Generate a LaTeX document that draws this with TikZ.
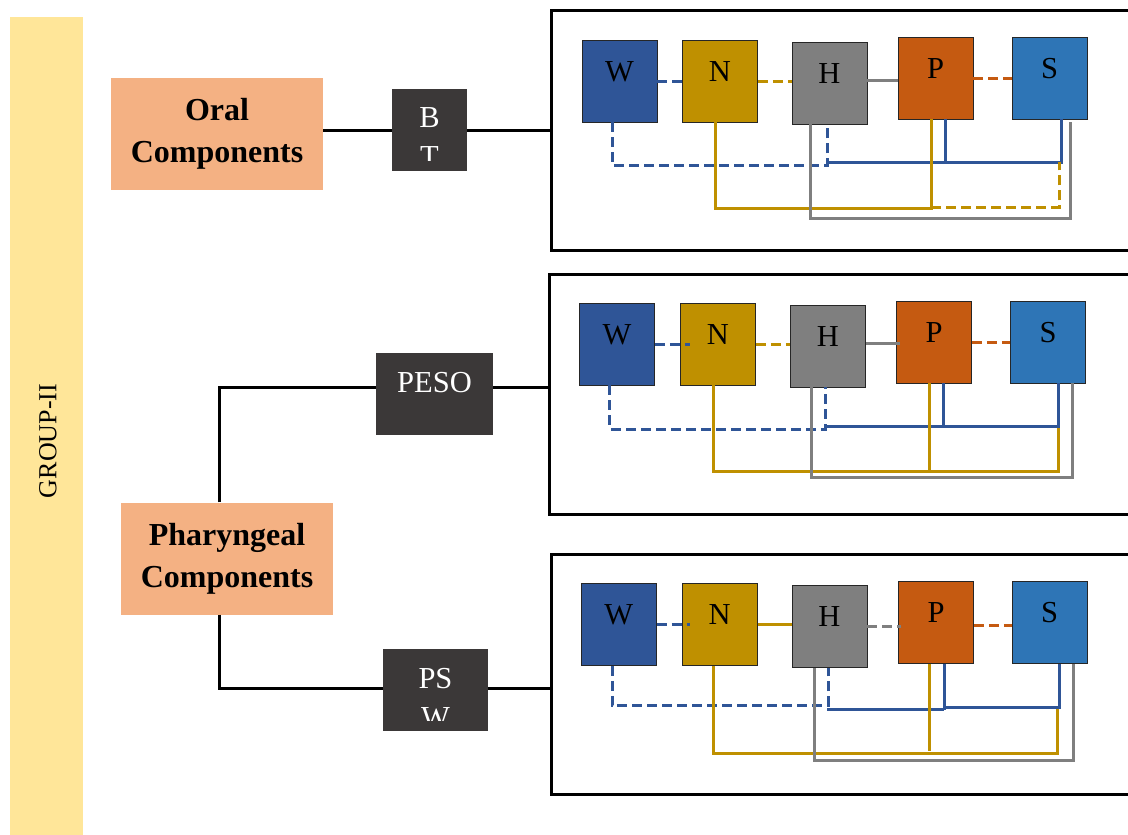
\documentclass[tikz,border=0pt]{standalone}
\usepackage{fontspec}
\setmainfont{Liberation Serif}
\definecolor{yel}{HTML}{FFE699}
\definecolor{salmon}{HTML}{F4B183}
\definecolor{dkbox}{HTML}{3B3838}
\definecolor{cW}{HTML}{2F5597}
\definecolor{cN}{HTML}{BF9000}
\definecolor{cH}{HTML}{7F7F7F}
\definecolor{cP}{HTML}{C55A11}
\definecolor{cS}{HTML}{2E75B6}
\begin{document}
\begin{tikzpicture}[x=1pt,y=-1pt,
 box/.style={draw=black!85,line width=0.8pt,minimum width=75pt,minimum height=82pt,inner sep=0pt,text height=0pt,text depth=0pt,font=\fontsize{30.5}{35}\selectfont},
 dk/.style={fill=dkbox,minimum height=82pt,inner sep=0pt},
 wt/.style={text=white,font=\fontsize{30.5}{35}\selectfont,anchor=base,inner sep=0pt},
 comp/.style={fill=salmon,minimum width=212pt,minimum height=112pt,align=center,font=\fontsize{32}{42}\selectfont\bfseries},
 panel/.style={draw=black,line width=3pt,minimum width=600pt,minimum height=240pt,inner sep=0pt},
 conn/.style={line width=3pt,draw=black},
 bl/.style={line width=3pt,draw=cW},
 gd/.style={line width=3pt,draw=cN},
 gy/.style={line width=3pt,draw=cH},
 og/.style={line width=3pt,draw=cP},
 dsh/.style={dash pattern=on 10pt off 5pt}
]
\useasboundingbox (0,0) rectangle (1128,835);
\clip (0,0) rectangle (1128,835);

% left strip
\node[fill=yel,minimum width=73pt,minimum height=820pt,inner sep=0pt] (strip) at (46.5,427) {};
\node[rotate=90,font=\fontsize{26}{30}\selectfont] (grp) at (48,441) {GROUP-II};

% component boxes
\node[comp] (oral) at (217,134) {Oral\\Components};
\node[comp] (phar) at (227,558.5) {Pharyngeal\\Components};

% dark boxes
\node[dk,minimum width=75pt] (BT) at (429.5,130) {};
\node[dk,minimum width=117pt] (PESO) at (434.5,394) {};
\node[dk,minimum width=105pt] (PSW) at (435.5,690) {};
\begin{scope}
\clip (BT.north west) rectangle ([yshift=11pt]BT.south east);
\node[wt] (BTa) at (429.5,127) {B};
\node[wt] (BTb) at (429.5,166) {T};
\end{scope}
\node[wt] (PESOt) at (434.5,392) {PESO};
\begin{scope}
\clip (PSW.north west) rectangle ([yshift=11pt]PSW.south east);
\node[wt] (PSWa) at (435.5,688) {PS};
\node[wt] (PSWb) at (435.5,727) {W};
\end{scope}

% panels
\node[panel] (pan1) at (851,130) {};
\node[panel] (pan2) at (849,394) {};
\node[panel] (pan3) at (851,674) {};

% left connectors
\draw[conn] (oral.east |- BT.west) -- (BT.west);
\draw[conn] (BT.east) -- (pan1.west);
\draw[conn] ([xshift=-8pt]phar.north) |- ([yshift=7pt]PESO.west);
\draw[conn] ([yshift=7pt]PESO.east) -- ([yshift=7pt]pan2.west);
\draw[conn] ([xshift=-8pt]phar.south) |- ([yshift=2pt]PSW.west);
\draw[conn] ([yshift=2pt]PSW.east) -- ([yshift=-14pt]pan3.west);

% ---------- panel 1 ----------
\node[box,fill=cW] (W1) at (619.5,81) {W};
\node[box,fill=cN] (N1) at (720,81) {N};
\node[box,fill=cH] (H1) at (829.5,83) {H};
\node[box,fill=cP] (P1) at (935.5,78) {P};
\node[box,fill=cS] (S1) at (1049.5,78) {S};
\draw[bl,dsh] (W1.east) -- (W1.east -| N1.west);
\draw[gd,dsh] (N1.east) -- (N1.east -| H1.west);
\draw[gy] ([yshift=3pt]H1.east) -- ([yshift=-2pt]P1.west);
\draw[og,dsh] (P1.east) -- (S1.west);
\draw[bl,dsh] ([xshift=-7.5pt]W1.south) -- ++(0,43) -| ([xshift=-2.5pt]H1.south);
\draw[bl] ([xshift=-2.5pt]H1.south) ++(0,38) -| ([xshift=11.5pt]S1.south);
\draw[bl] ([xshift=10pt]P1.south) -- ++(0,42);
\draw[gd] ([xshift=-5pt]N1.south) -- ++(0,86) -| ([xshift=-4.5pt]P1.south);
\draw[gd,dsh] ([xshift=-4.5pt]P1.south) ++(0,88) -- ++(128,0) -- ++(0,-45);
\draw[gy] ([xshift=-19.5pt]H1.south) -- ++(0,94) -| ([xshift=20.5pt,yshift=-3pt]S1.south);

% ---------- panel 2 ----------
\node[box,fill=cW] (W2) at (617,344) {W};
\node[box,fill=cN] (N2) at (718,344) {N};
\node[box,fill=cH] (H2) at (828,346) {H};
\node[box,fill=cP] (P2) at (934,342) {P};
\node[box,fill=cS] (S2) at (1048,342) {S};
\draw[bl,dsh] (W2.east) -- ([xshift=10pt]N2.west);
\draw[gd,dsh] (N2.east) -- (N2.east -| H2.west);
\draw[gy] ([yshift=2.3pt]H2.east) -- ([xshift=4pt,yshift=-1.7pt]P2.west);
\draw[og,dsh] (P2.east) -- (S2.west);
\draw[bl,dsh] ([xshift=-7.3pt]W2.south) -- ++(0,43.7) -| ([xshift=-2.3pt]H2.south);
\draw[bl] ([xshift=-2.3pt]H2.south) ++(0,39.3) -| ([xshift=10pt]S2.south);
\draw[bl] ([xshift=9.7pt]P2.south) -- ++(0,43.3);
\draw[gd] ([xshift=-5pt]N2.south) -- ++(0,85.7) -- ++(345,0) -- ++(0,-43);
\draw[gd] ([xshift=-5pt]P2.south) -- ++(0,87.7);
\draw[gy] ([xshift=-16.3pt]H2.south) -- ++(0,89.7) -| ([xshift=24pt]S2.south);

% ---------- panel 3 ----------
\node[box,fill=cW] (W3) at (618.7,624.5) {W};
\node[box,fill=cN] (N3) at (719.7,624.5) {N};
\node[box,fill=cH] (H3) at (829.5,626.7) {H};
\node[box,fill=cP] (P3) at (936,622.3) {P};
\node[box,fill=cS] (S3) at (1049.5,622.3) {S};
\draw[bl,dsh] (W3.east) -- ([xshift=8pt]N3.west);
\draw[gd] (N3.east) -- (N3.east -| H3.west);
\draw[gy,dsh] (H3.east) -- ([xshift=3pt]H3.east -| P3.west);
\draw[og,dsh] ([yshift=-3pt]P3.east) -- ([yshift=-3pt]S3.west);
\draw[bl,dsh] ([xshift=-6.7pt]W3.south) -- ++(0,39.7) -| ([xshift=-1.5pt]H3.south);
\draw[bl] ([xshift=-2.5pt]H3.south) ++(0,41.3) -- ++(117,0);
\draw[bl] ([xshift=8pt]P3.south) -- ++(0,46);
\draw[bl] ([xshift=8pt]P3.south) ++(0,43.4) -| ([xshift=10pt]S3.south);
\draw[gd] ([xshift=-6.7pt]N3.south) -- ++(0,87.7) -- ++(344,0) -- ++(0,-45);
\draw[gd] ([xshift=-7pt]P3.south) -- ++(0,87.7);
\draw[gy] ([xshift=-15.5pt]H3.south) -- ++(0,92.3) -| ([xshift=24pt]S3.south);
\end{tikzpicture}
\end{document}
